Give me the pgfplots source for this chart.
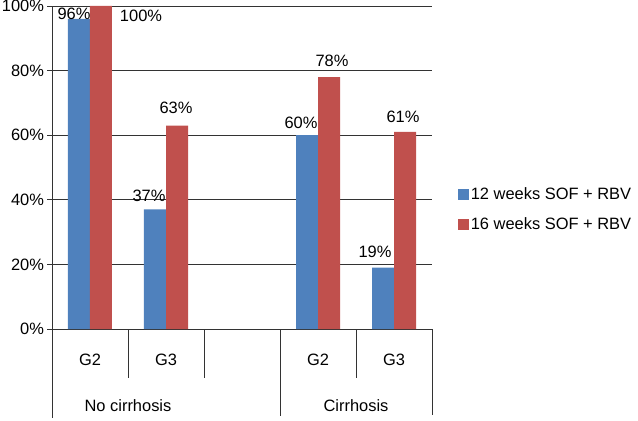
\documentclass[border=0pt]{standalone}
\usepackage{fontspec}
\setmainfont{Liberation Sans}
\usepackage{pgfplots}
\pgfplotsset{compat=1.18}
\definecolor{xblue}{HTML}{4F81BD}
\definecolor{xred}{HTML}{C0504D}
\newcommand{\fs}{\fontsize{16.5}{20}\selectfont}
\begin{document}
\begin{tikzpicture}[font=\fs]
\begin{axis}[
  name=ax,
  scale only axis,
  width=380bp, height=323bp,
  xmin=-0.5, xmax=4.5,
  ymin=0, ymax=100,
  ybar=0pt, bar width=22bp,
  xtick=\empty,
  ytick={0,20,40,60,80,100},
  yticklabel={\pgfmathprintnumber{\tick}\%},
  /pgf/number format/assume math mode=true,
  tick label style={font=\fs},
  tick align=outside,
  major tick length=4.5bp,
  ytick style={black!80, line width=0.8bp},
  ymajorgrids,
  grid style={black!80, line width=0.8bp},
  axis x line*=bottom,
  axis y line*=left,
  axis line style={black!80, line width=0.8bp},
  clip=false,
  legend style={draw=none, fill=none, font=\fs, at={(rel axis cs:1.068,0.37)}, anchor=west,
    row sep=13bp, inner sep=0pt, outer sep=0pt,
    /tikz/every even column/.append style={column sep=4bp}},
  legend cell align=left,
  legend image code/.code={\fill[#1] (0bp,-5.5bp) rectangle (11bp,5.5bp);},
]
\addplot[fill=xblue, draw=none] coordinates {(0,96) (1,37) (3,60) (4,19)};
\addplot[fill=xred, draw=none] coordinates {(0,100) (1,63) (3,78) (4,61)};
\legend{12 weeks SOF + RBV, 16 weeks SOF + RBV}
% data labels
\node at (axis cs:-0.211,97.5) {96\%};
\node at (axis cs:0.671,96.9) {100\%};
\node at (axis cs:0.776,41.2) {37\%};
\node at (axis cs:1.132,68.4) {63\%};
\node at (axis cs:2.776,63.8) {60\%};
\node at (axis cs:3.184,83.0) {78\%};
\node at (axis cs:4.118,65.6) {61\%};
\node at (axis cs:3.75,23.8) {19\%};
% category separators
\draw[black!80, line width=0.8bp] (axis cs:-0.5,0) -- ([yshift=-89bp]axis cs:-0.5,0);
\draw[black!80, line width=0.8bp] (axis cs:0.5,0) -- ([yshift=-49bp]axis cs:0.5,0);
\draw[black!80, line width=0.8bp] (axis cs:1.5,0) -- ([yshift=-49bp]axis cs:1.5,0);
\draw[black!80, line width=0.8bp] (axis cs:2.5,0) -- ([yshift=-87bp]axis cs:2.5,0);
\draw[black!80, line width=0.8bp] (axis cs:3.5,0) -- ([yshift=-49bp]axis cs:3.5,0);
\draw[black!80, line width=0.8bp] (axis cs:4.5,0) -- ([yshift=-86bp]axis cs:4.5,0);
% category labels
\node at ([yshift=-31bp]axis cs:0,0) {G2};
\node at ([yshift=-31bp]axis cs:1,0) {G3};
\node at ([yshift=-31bp]axis cs:3,0) {G2};
\node at ([yshift=-31bp]axis cs:4,0) {G3};
\node at ([yshift=-77bp]axis cs:0.5,0) {No cirrhosis};
\node at ([yshift=-77bp]axis cs:3.5,0) {Cirrhosis};
\end{axis}
\pgfresetboundingbox
\useasboundingbox ([shift={(-52bp,-92bp)}]ax.south west) rectangle ([shift={(586bp,329bp)}]ax.south west);
\end{tikzpicture}
\end{document}
